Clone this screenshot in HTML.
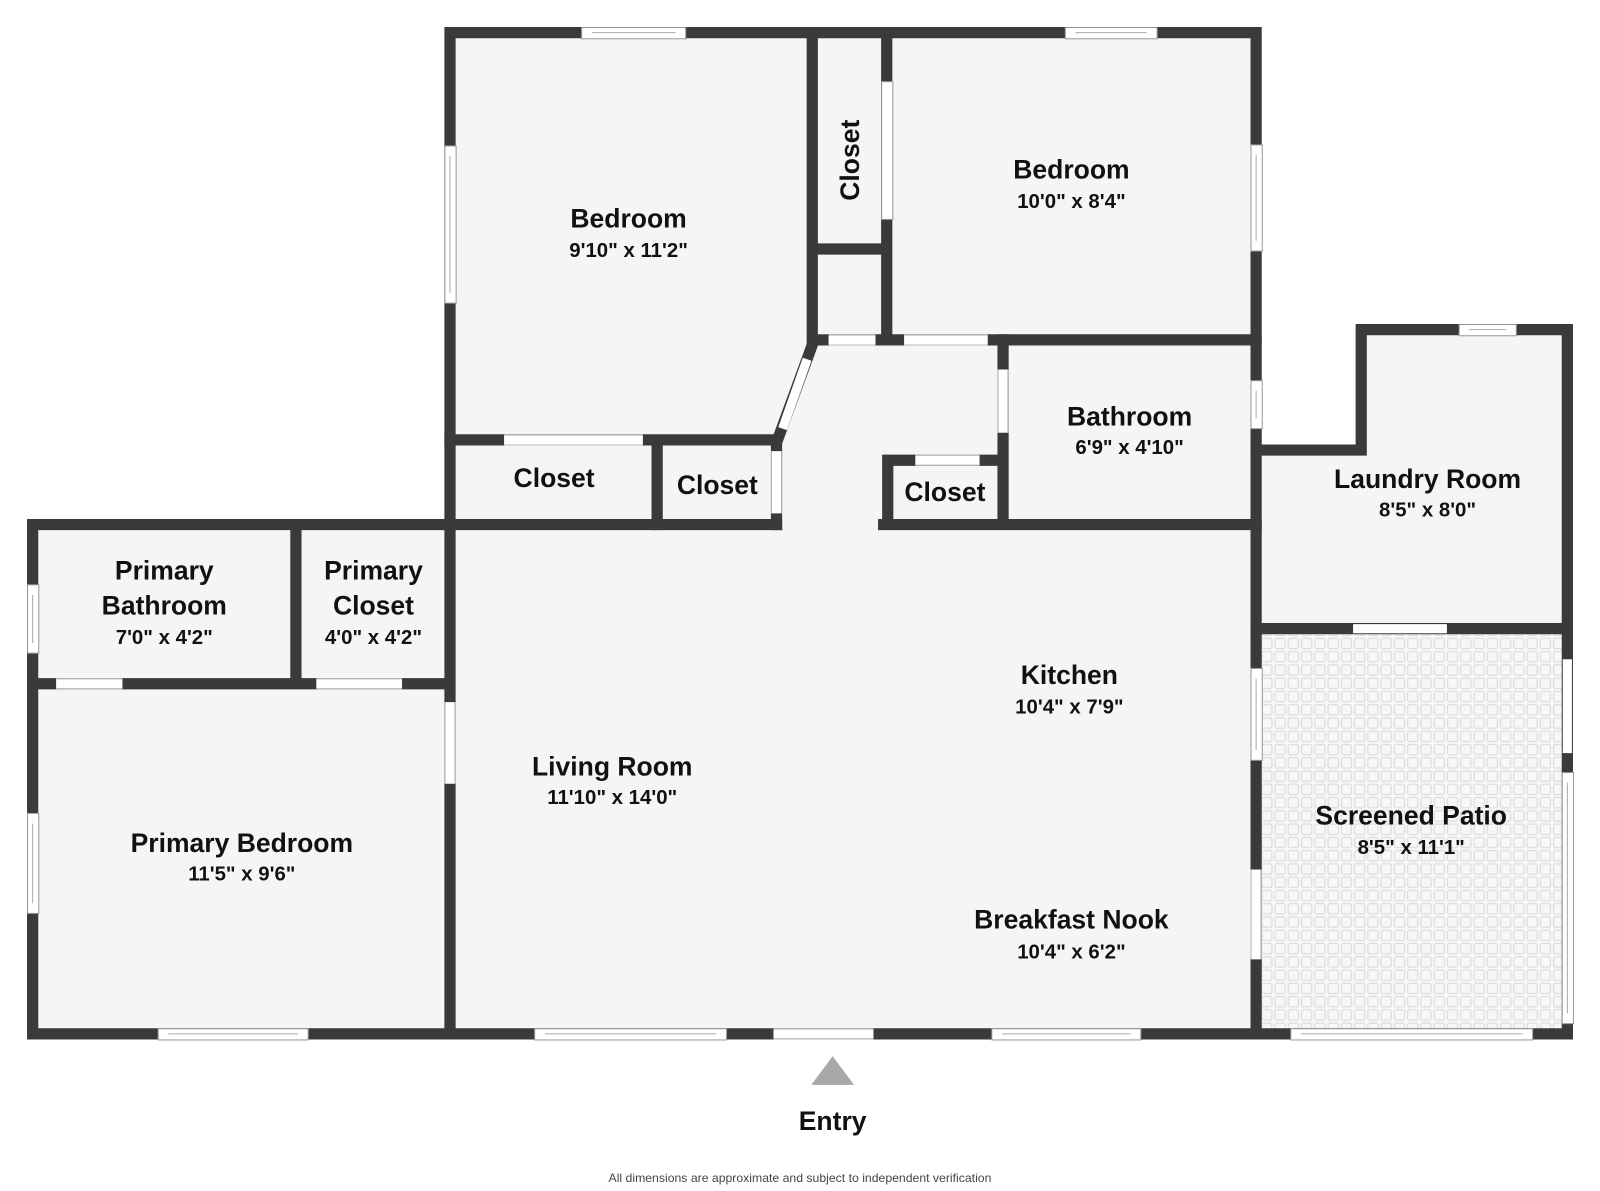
<!DOCTYPE html>
<html><head><meta charset="utf-8"><style>
html,body{margin:0;padding:0;background:#fff;}
svg{display:block;}
text{font-family:"Liberation Sans","DejaVu Sans",sans-serif;fill:#111;text-anchor:middle;}
.n{font-size:26px;font-weight:bold;}
.d{font-size:20px;font-weight:bold;}
</style></head><body>
<svg width="1600" height="1191" viewBox="0 0 1568 1167" preserveAspectRatio="none" xmlns="http://www.w3.org/2000/svg">
<defs>
<pattern id="tile" width="13" height="13" patternUnits="userSpaceOnUse">
<rect width="13" height="13" fill="#f7f7f7"/>
<rect x="1.5" y="1.5" width="10" height="10" rx="2" fill="none" stroke="#dcdcdc" stroke-width="1.2"/>
</pattern>
</defs>
<rect width="1568" height="1167" fill="#fff"/>
<!-- floors -->
<g fill="#f5f5f5">
<rect x="441" y="32" width="790" height="981"/>
<rect x="32" y="514" width="409" height="499"/>
<rect x="1231" y="441" width="305" height="175"/>
<rect x="1334" y="323" width="202" height="120"/>
</g>
<rect x="1236" y="621" width="295" height="387" fill="url(#tile)"/>
<!-- walls -->
<g stroke="#3a3a3a" stroke-width="11" stroke-linecap="square" fill="none">
<path d="M441 32H1231V1013M441 32V514"/>
<path d="M796 32V333M869 32V333M796 244H869M796 333H1231"/>
<path d="M983 333V514M866 514H1231M870 451V514M870 451H983"/>
<path d="M441 431H762L796 338M644 431V514M761 431V514"/>
<path d="M32 514H761M32 514V1013H1536M290 514V670M32 670H441M441 514V1013"/>
<path d="M1231 441H1334V323H1536V1013M1231 616H1536"/>
</g>
<!-- door openings (white) -->
<g stroke="#fff" stroke-width="9" fill="none">
<path d="M812 333H858M886 333H968M983 362V424M897 451H960M494 431H630M761 442V503M55 670H120M310 670H394M441 688V768M1326 616H1418M758 1013H856M1231 852V940M1536 646V738"/>
<path d="M767 420L791 352"/>
</g>
<g stroke="#bbb" stroke-width="1" fill="none">
<path d="M812 328H858M812 338H858M886 328H968M886 338H968M978 362V424M988 362V424M897 446H960M897 456H960M494 426H630M494 436H630M756 442V503M766 442V503M55 665H120M55 675H120M310 665H394M310 675H394M436 688V768M446 688V768M758 1008H856M758 1018H856M1226 852V940M1236 852V940"/>
</g>
<!-- windows -->
<g fill="#fff" stroke="#999" stroke-width="1">
<rect x="570" y="27" width="102" height="11"/><rect x="1044" y="27" width="90" height="11"/>
<rect x="436" y="143" width="11" height="154"/><rect x="1226" y="142" width="11" height="104"/>
<rect x="1226" y="373" width="11" height="47"/><rect x="1226" y="655" width="11" height="90"/>
<rect x="1430" y="318" width="56" height="11"/><rect x="27" y="573" width="11" height="67"/>
<rect x="27" y="797" width="11" height="98"/><rect x="155" y="1008" width="147" height="11"/>
<rect x="524" y="1008" width="188" height="11"/><rect x="972" y="1008" width="146" height="11"/>
<rect x="1265" y="1008" width="237" height="11"/><rect x="1531" y="757" width="11" height="246"/>
<rect x="864" y="80" width="11" height="135"/>
</g>
<g stroke="#aaa" stroke-width="1">
<path d="M580 32H662M1054 32H1124M441 153V287M1231 152V236M1231 383V410M1231 665V735M1440 323H1476M32 583V630M32 807V885M165 1013H292M534 1013H702M982 1013H1108M1275 1013H1492M1536 767V993"/>
</g>
<!-- labels -->
<text class="n" x="616" y="223">Bedroom</text><text class="d" x="616" y="252">9'10" x 11'2"</text>
<text class="n" x="1050" y="175">Bedroom</text><text class="d" x="1050" y="204">10'0" x 8'4"</text>
<text class="n" transform="translate(842,157) rotate(-90)">Closet</text>
<text class="n" x="1107" y="417">Bathroom</text><text class="d" x="1107" y="445">6'9" x 4'10"</text>
<text class="n" x="543" y="477">Closet</text>
<text class="n" x="703" y="484">Closet</text>
<text class="n" x="926" y="491">Closet</text>
<text class="n" x="1399" y="478">Laundry Room</text><text class="d" x="1399" y="506">8'5" x 8'0"</text>
<text class="n" x="161" y="568">Primary</text><text class="n" x="161" y="602">Bathroom</text><text class="d" x="161" y="631">7'0" x 4'2"</text>
<text class="n" x="366" y="568">Primary</text><text class="n" x="366" y="602">Closet</text><text class="d" x="366" y="631">4'0" x 4'2"</text>
<text class="n" x="1048" y="670">Kitchen</text><text class="d" x="1048" y="699">10'4" x 7'9"</text>
<text class="n" x="600" y="760">Living Room</text><text class="d" x="600" y="788">11'10" x 14'0"</text>
<text class="n" x="1383" y="808">Screened Patio</text><text class="d" x="1383" y="837">8'5" x 11'1"</text>
<text class="n" x="237" y="835">Primary Bedroom</text><text class="d" x="237" y="863">11'5" x 9'6"</text>
<text class="n" x="1050" y="910">Breakfast Nook</text><text class="d" x="1050" y="939">10'4" x 6'2"</text>
<polygon points="816,1035 837,1063 795,1063" fill="#a8a8a8"/>
<text class="n" x="816" y="1107">Entry</text>
<text x="784" y="1158" style="font-size:12px;fill:#444;">All dimensions are approximate and subject to independent verification</text>
</svg>
</body></html>
